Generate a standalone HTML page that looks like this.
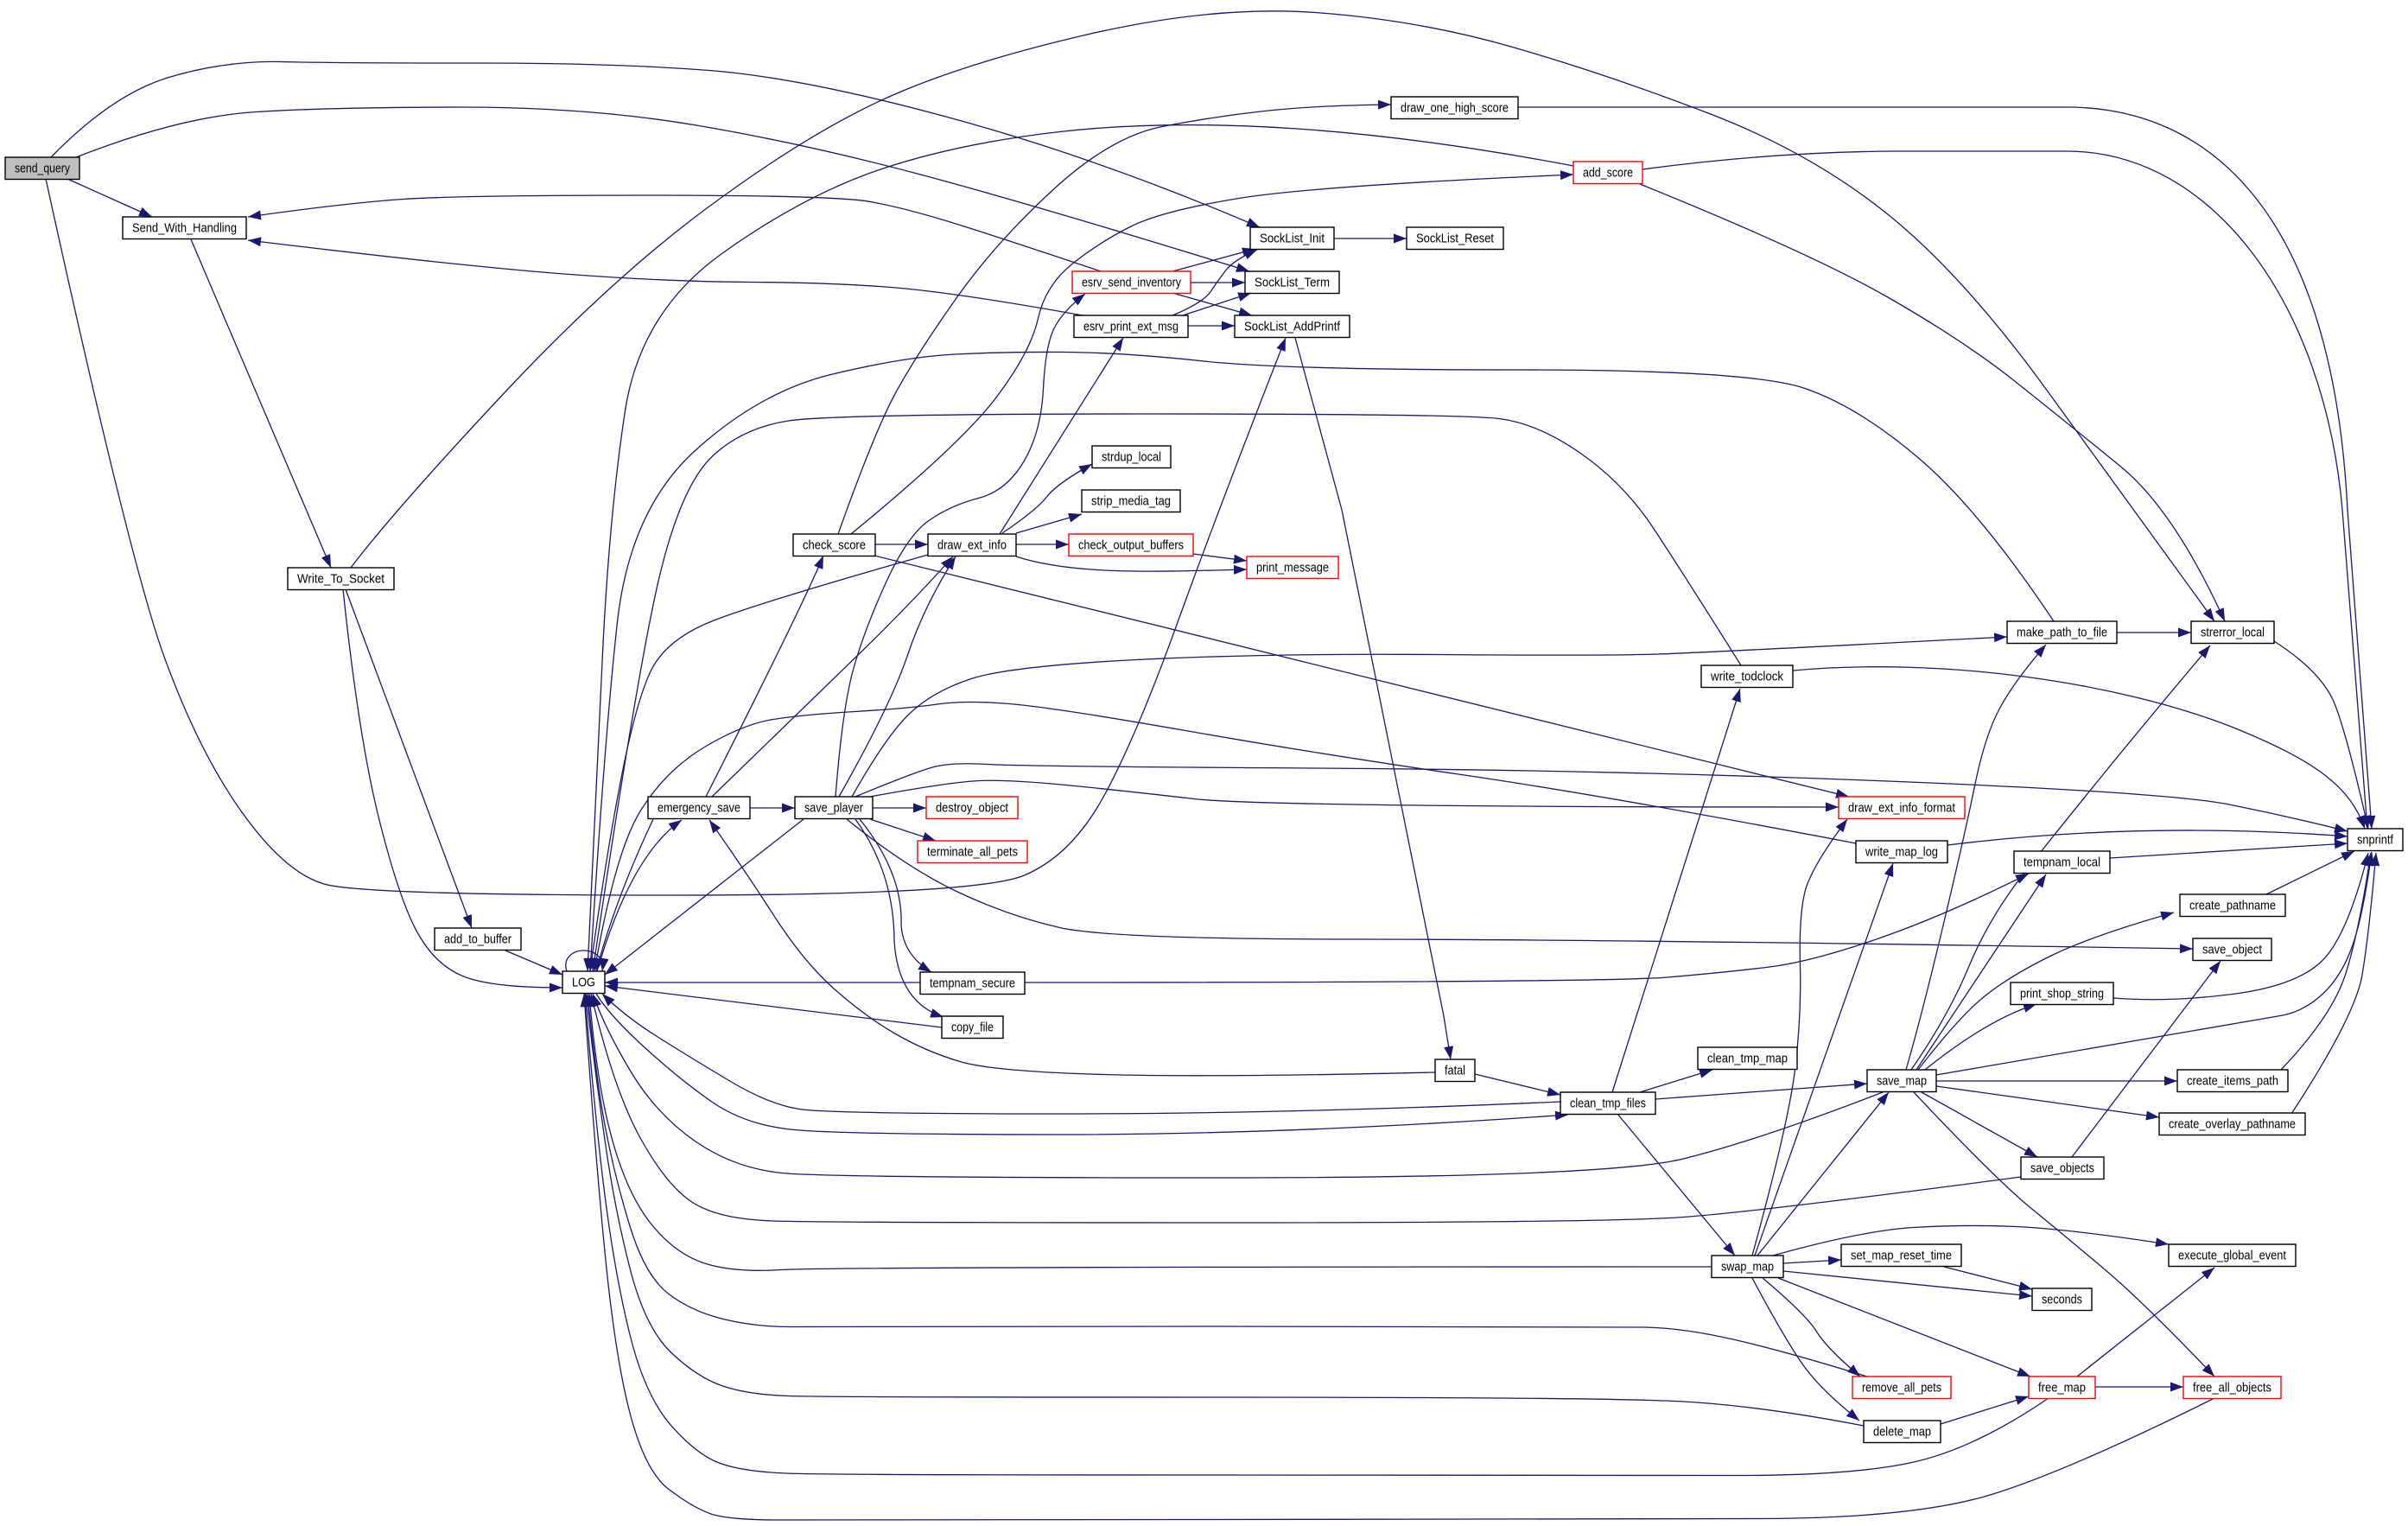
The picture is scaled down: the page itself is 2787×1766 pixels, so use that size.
<!DOCTYPE html>
<html>
<head>
<meta charset="utf-8">
<style>
html,body{margin:0;padding:0;background:#fff;}
svg{display:block;}
text{font-family:"Liberation Sans",Arial,sans-serif;font-size:15px;fill:#000;}
</style>
</head>
<body>
<svg width="2787" height="1766" viewBox="0 0 2787 1766" xmlns="http://www.w3.org/2000/svg">
<defs>
<marker id="a" markerUnits="userSpaceOnUse" markerWidth="15" markerHeight="11" refX="15" refY="5.5" viewBox="0 0 15 11" orient="auto">
<path d="M0,0 L15,5.5 L0,11 z" fill="#191970"/>
</marker>
</defs>
<rect width="2787" height="1766" fill="#fff"/>
<g fill="none" stroke="#191970" stroke-width="1.3" marker-end="url(#a)">
<path d="M78,207 L176,251"/>
<path d="M59,182 Q130,109 195.5,89.5 Q261,70 325.5,71.5 Q390,73 551,73 Q712,73 821,81.5 Q930,90 1102,137 Q1274,184 1458,263"/>
<path d="M88,182 Q208,135 296.5,129.5 Q385,124 533.5,124 Q682,124 806,145 Q930,166 1063.5,201.5 Q1197,237 1446,314"/>
<path d="M53,207 Q150,650 190,760 Q230,870 280,940 Q330,1010 375,1023 Q420,1036 775.5,1036 Q1131,1036 1185.5,1013 Q1240,990 1277.5,921.5 Q1315,853 1362.5,721.5 Q1410,590 1488,391"/>
<path d="M221,277 L383,657"/>
<path d="M406,657 Q457,590 581.5,457 Q706,324 818,241 Q930,158 1019,116.5 Q1108,75 1256,40.5 Q1404,6 1522.5,14.5 Q1641,23 1750.5,54.5 Q1860,86 1978.5,131.5 Q2097,177 2185.5,248.5 Q2274,320 2371.5,455 Q2469,590 2563,719"/>
<path d="M400,682 L546,1074"/>
<path d="M397,682 Q415,853 438.5,947 Q462,1041 483,1079 Q504,1117 536.5,1130 Q569,1143 651,1143"/>
<path d="M585,1100 L651,1128"/>
<path d="M656,1124 C646,1094 702,1090 697,1124"/>
<path d="M1821,192 Q1642,158 1493.5,148.5 Q1345,139 1226.5,152.5 Q1108,166 1019,196 Q930,226 835.5,293.5 Q741,361 723.5,475.5 Q706,590 698,745 Q690,900 680,1124"/>
<path d="M2377,719 Q2291,590 2220.5,530 Q2150,470 2087.5,449 Q2025,428 1756,428 Q1487,428 1393.5,418 Q1300,408 1231.5,407.5 Q1163,407 1105,410 Q1047,413 963.5,433 Q880,453 804.5,521.5 Q729,590 714.5,720 Q700,850 683,1124"/>
<path d="M2015,770 Q1949,665 1914.5,612.5 Q1880,560 1830,525 Q1780,490 1735,484.5 Q1690,479 1327.5,479 Q965,479 912.5,487 Q860,495 825,527.5 Q790,560 765,660 Q740,760 686,1124"/>
<path d="M1074,642 Q880,697 825,718.5 Q770,740 752.5,778 Q735,816 717.5,908 Q700,1000 683,1124"/>
<path d="M817,922 Q930,699 953,643"/>
<path d="M824,922 Q930,819 991.5,759.5 Q1053,700 1103,644"/>
<path d="M868,935 L920,935"/>
<path d="M756,948 Q712,1041 690,1124"/>
<path d="M691,1124 Q730,990 789,949"/>
<path d="M1661,1241 Q1404,1247 1277,1243.5 Q1150,1240 1111,1228.5 Q1072,1217 1036.5,1196.5 Q1001,1176 965.5,1144.5 Q930,1113 895,1058.5 Q860,1004 821,949"/>
<path d="M930,948 L700,1128"/>
<path d="M2148,976 Q1860,921 1691.5,896.5 Q1523,872 1375,846 Q1227,820 1173.5,815 Q1120,810 1084.5,815 Q1049,820 989.5,823.5 Q930,827 895,832.5 Q860,838 815.5,864.5 Q771,891 741.5,938 Q712,985 688,1124"/>
<path d="M1065,1137 L700,1137"/>
<path d="M1090,1189 L700,1141"/>
<path d="M1806,1275 Q1494,1289 1227,1289 Q960,1289 925,1283.5 Q890,1278 845.5,1251.5 Q801,1225 762,1200.5 Q723,1176 697,1150"/>
<path d="M690,1150 Q706,1176 747.5,1213.5 Q789,1251 824.5,1275.5 Q860,1300 910,1306.5 Q960,1313 1227,1313 Q1494,1313 1815,1290"/>
<path d="M2179,1264 Q2037,1319 1948.5,1341 Q1860,1363 1410,1363 Q960,1363 905,1357.5 Q850,1352 805,1321 Q760,1290 730,1240 Q700,1190 686,1150"/>
<path d="M2339,1362 Q2037,1402 1948.5,1408.5 Q1860,1415 1410,1415 Q960,1415 895,1413 Q830,1411 800,1390.5 Q770,1370 740,1315 Q710,1260 684,1150"/>
<path d="M1981,1466 Q960,1466 904,1469.5 Q848,1473 814,1461.5 Q780,1450 752.5,1415 Q725,1380 707.5,1315 Q690,1250 682,1150"/>
<path d="M2161,1593 Q2067,1564 2008,1550.5 Q1949,1537 1904.5,1536 Q1860,1535 1410,1535 Q960,1535 918.5,1535.5 Q877,1536 839,1527 Q801,1518 774,1497.5 Q747,1477 729.5,1420.5 Q712,1364 701,1307 Q690,1250 680,1150"/>
<path d="M2157,1650 Q2037,1627 1948.5,1622 Q1860,1617 1410,1617 Q960,1617 913,1615.5 Q866,1614 836.5,1604 Q807,1594 777,1565.5 Q747,1537 729.5,1469.5 Q712,1402 701,1326 Q690,1250 678,1150"/>
<path d="M2371,1618 Q2286,1676 2215,1692 Q2144,1708 2002,1707.5 Q1860,1707 1410,1707 Q960,1707 910,1705 Q860,1703 833.5,1693.5 Q807,1684 777,1650 Q747,1616 729.5,1546.5 Q712,1477 700,1383 Q688,1289 677,1150"/>
<path d="M2563,1618 Q2392,1703 2303.5,1730 Q2215,1757 2037.5,1757.5 Q1860,1758 1410,1758.5 Q960,1759 901,1759 Q842,1759 821.5,1751.5 Q801,1744 774,1723.5 Q747,1703 729.5,1637 Q712,1571 700,1448.5 Q688,1326 676,1150"/>
<path d="M1274,314 Q1167,278 1108,259.5 Q1049,241 1007.5,233.5 Q966,226 750,226 Q534,226 467,230.5 Q400,235 287,251"/>
<path d="M1253,365 Q1108,339 1037,333 Q966,327 868.5,326.5 Q771,326 652.5,317 Q534,308 287,278"/>
<path d="M1357,314 L1453,288"/>
<path d="M1378,327 L1441,327"/>
<path d="M1357,339 L1449,365"/>
<path d="M1357,365 Q1393,350 1401.5,337 Q1410,324 1419,312.5 Q1428,301 1455,289"/>
<path d="M1369,365 L1448,339"/>
<path d="M1375,377 L1429,377"/>
<path d="M1544,276 L1628,276"/>
<path d="M1499,391 L1553,590 L1671,1176 L1679,1226"/>
<path d="M1757,124 L2392,124 C2560,124 2700,250 2717,590 L2745,959"/>
<path d="M1901,196 Q2050,176 2191,175 L2392,175 C2560,175 2690,350 2711,590 L2740,959"/>
<path d="M1898,213 Q2096,293 2185,344 Q2274,395 2333,442 Q2392,489 2454,539.5 Q2516,590 2575,719"/>
<path d="M970,618 Q1013,497 1038,452 Q1063,407 1108,343.5 Q1153,280 1219.5,219 Q1286,158 1345,146.5 Q1404,135 1463.5,128.5 Q1523,122 1610,121"/>
<path d="M985,618 Q1113,513 1153,460 Q1193,407 1201.5,368.5 Q1210,330 1241.5,305 Q1273,280 1309,262 Q1345,244 1434,229.5 Q1523,215 1821,202"/>
<path d="M1013,630 L1074,630"/>
<path d="M1012,643 L2140,922"/>
<path d="M1157,618 L1300,391"/>
<path d="M1160,617 Q1200,590 1211.5,575 Q1223,560 1264,537"/>
<path d="M1176,617 L1252,595"/>
<path d="M1176,630 L1237,630"/>
<path d="M1176,644 C1240,665 1330,662 1443,659"/>
<path d="M1381,641 L1443,649"/>
<path d="M967,922 Q975,820 987.5,775 Q1000,730 1025,675 Q1050,620 1075,602.5 Q1100,585 1132.5,576.5 Q1165,568 1185,534 Q1205,500 1207.5,450 Q1210,400 1220,380 Q1230,360 1256,340"/>
<path d="M971,922 Q1031,816 1050.5,758 Q1070,700 1106,644"/>
<path d="M986,922 Q1025,853 1051.5,827 Q1078,801 1122.5,786 Q1167,771 1315.5,763.5 Q1464,756 1662,757.5 Q1860,759 1919,757 Q1978,755 2323,737"/>
<path d="M990,922 Q1060,893 1081,887.5 Q1102,882 1143.5,884.5 Q1185,887 1522.5,889 Q1860,891 2185,904 Q2510,917 2580,931 Q2650,945 2717,962"/>
<path d="M1007,922 Q1100,905 1133.5,903.5 Q1167,902 1233.5,908.5 Q1300,915 1382,924.5 Q1464,934 2128,934"/>
<path d="M1010,935 L1072,935"/>
<path d="M1007,948 L1083,973"/>
<path d="M995,948 Q1045,1010 1043,1070 Q1045,1105 1078,1125"/>
<path d="M990,948 Q1035,1010 1035,1090 Q1040,1160 1092,1177"/>
<path d="M980,948 Q1049,1004 1108,1032 Q1167,1060 1226.5,1073.5 Q1286,1087 1573,1087 Q1860,1087 2538,1098"/>
<path d="M1186,1137 Q1860,1137 1930,1131 Q2000,1125 2048,1119 Q2096,1113 2173,1086.5 Q2250,1060 2348,1011"/>
<path d="M1707,1243 L1806,1267"/>
<path d="M1898,1264 L1982,1238"/>
<path d="M1916,1272 L2161,1254"/>
<path d="M1872,1289 L2008,1453"/>
<path d="M1866,1264 L2014,797"/>
<path d="M2028,1453 Q2070,1300 2077.5,1238 Q2085,1176 2083.5,1118 Q2082,1060 2089,1032 Q2096,1004 2138,948"/>
<path d="M2031,1453 L2191,999"/>
<path d="M2034,1453 L2186,1264"/>
<path d="M2064,1462 L2131,1458"/>
<path d="M2052,1453 Q2156,1424 2215,1420.5 Q2274,1417 2333,1419.5 Q2392,1422 2510,1440"/>
<path d="M2064,1471 L2352,1500"/>
<path d="M2250,1466 L2352,1492"/>
<path d="M2058,1479 L2350,1593"/>
<path d="M2040,1479 Q2091,1522 2102.5,1541 Q2114,1560 2153,1593"/>
<path d="M2028,1479 Q2067,1552 2087.5,1580.5 Q2108,1609 2152,1644"/>
<path d="M2246,1648 L2348,1616"/>
<path d="M2425,1605 L2527,1605"/>
<path d="M2404,1593 L2563,1467"/>
<path d="M2241,1251 L2520,1251"/>
<path d="M2241,1257 L2499,1293"/>
<path d="M2224,1264 L2358,1339"/>
<path d="M2215,1264 Q2309,1364 2350.5,1398 Q2392,1432 2436.5,1469.5 Q2481,1507 2563,1593"/>
<path d="M2206,1238 Q2224,1176 2249,1071 Q2274,966 2285.5,909.5 Q2297,853 2313.5,821.5 Q2330,790 2368,746"/>
<path d="M2212,1238 Q2255,1176 2279,1118 Q2303,1060 2347.5,1004 Q2392,948 2436,894 Q2480,840 2558,747"/>
<path d="M2218,1238 L2368,1012"/>
<path d="M2220,1238 Q2268,1176 2297.5,1152.5 Q2327,1129 2374,1106 Q2421,1083 2516,1056"/>
<path d="M2228,1238 Q2300,1180 2357,1162"/>
<path d="M2241,1244 Q2617,1180 2642,1175 Q2667,1170 2688.5,1150 Q2710,1130 2722.5,1095 Q2735,1060 2745,986"/>
<path d="M2398,1339 L2570,1112"/>
<path d="M2640,1238 Q2699,1176 2714.5,1128 Q2730,1080 2744,987"/>
<path d="M2652,1289 Q2726,1176 2734,1128 Q2742,1080 2750,987"/>
<path d="M2446,1155 Q2510,1160 2584,1150.5 Q2658,1141 2687.5,1112 Q2717,1083 2741,987"/>
<path d="M2623,1035 L2725,985"/>
<path d="M2442,993 L2717,976"/>
<path d="M2254,978 Q2480,950 2717,968"/>
<path d="M2632,742 Q2688,778 2702.5,815.5 Q2717,853 2741,959"/>
<path d="M2075,776 C2250,760 2450,790 2580,840 C2680,880 2720,910 2737,959"/>
<path d="M2450,732 L2536,732"/>
</g>

<g stroke-width="1.4">
<rect x="6" y="182" width="86" height="25.5" fill="#bfbfbf" stroke="#000"/>
<rect x="142" y="251" width="143" height="25.5" fill="#fff" stroke="#000"/>
<rect x="333" y="657" width="123" height="25.5" fill="#fff" stroke="#000"/>
<rect x="503" y="1074" width="100" height="25.5" fill="#fff" stroke="#000"/>
<rect x="651" y="1124" width="49" height="25.5" fill="#fff" stroke="#000"/>
<rect x="750" y="922" width="118" height="25.5" fill="#fff" stroke="#000"/>
<rect x="918" y="618" width="95" height="25.5" fill="#fff" stroke="#000"/>
<rect x="920" y="922" width="90" height="25.5" fill="#fff" stroke="#000"/>
<rect x="1074" y="618" width="102" height="25.5" fill="#fff" stroke="#000"/>
<rect x="1241" y="314" width="137" height="25.5" fill="#fff" stroke="#f00"/>
<rect x="1243" y="365" width="132" height="25.5" fill="#fff" stroke="#000"/>
<rect x="1264" y="516" width="91" height="25.5" fill="#fff" stroke="#000"/>
<rect x="1252" y="567" width="114" height="25.5" fill="#fff" stroke="#000"/>
<rect x="1237" y="618" width="144" height="25.5" fill="#fff" stroke="#f00"/>
<rect x="1443" y="644" width="106" height="25.5" fill="#fff" stroke="#f00"/>
<rect x="1072" y="922" width="106" height="25.5" fill="#fff" stroke="#f00"/>
<rect x="1062" y="973" width="127" height="25.5" fill="#fff" stroke="#f00"/>
<rect x="1065" y="1125" width="121" height="25.5" fill="#fff" stroke="#000"/>
<rect x="1090" y="1176" width="71" height="25.5" fill="#fff" stroke="#000"/>
<rect x="1447" y="263" width="97" height="25.5" fill="#fff" stroke="#000"/>
<rect x="1628" y="263" width="112" height="25.5" fill="#fff" stroke="#000"/>
<rect x="1441" y="314" width="109" height="25.5" fill="#fff" stroke="#000"/>
<rect x="1429" y="365" width="133" height="25.5" fill="#fff" stroke="#000"/>
<rect x="1610" y="112" width="147" height="25.5" fill="#fff" stroke="#000"/>
<rect x="1821" y="187" width="80" height="25.5" fill="#fff" stroke="#f00"/>
<rect x="1661" y="1226" width="46" height="25.5" fill="#fff" stroke="#000"/>
<rect x="1806" y="1264" width="110" height="25.5" fill="#fff" stroke="#000"/>
<rect x="1965" y="1212" width="115" height="25.5" fill="#fff" stroke="#000"/>
<rect x="1981" y="1453" width="83" height="25.5" fill="#fff" stroke="#000"/>
<rect x="1969" y="770" width="106" height="25.5" fill="#fff" stroke="#000"/>
<rect x="2323" y="719" width="127" height="25.5" fill="#fff" stroke="#000"/>
<rect x="2536" y="719" width="96" height="25.5" fill="#fff" stroke="#000"/>
<rect x="2128" y="922" width="146" height="25.5" fill="#fff" stroke="#f00"/>
<rect x="2148" y="973" width="106" height="25.5" fill="#fff" stroke="#000"/>
<rect x="2331" y="985" width="111" height="25.5" fill="#fff" stroke="#000"/>
<rect x="2161" y="1238" width="80" height="25.5" fill="#fff" stroke="#000"/>
<rect x="2523" y="1035" width="122" height="25.5" fill="#fff" stroke="#000"/>
<rect x="2538" y="1086" width="91" height="25.5" fill="#fff" stroke="#000"/>
<rect x="2327" y="1137" width="119" height="25.5" fill="#fff" stroke="#000"/>
<rect x="2520" y="1238" width="128" height="25.5" fill="#fff" stroke="#000"/>
<rect x="2499" y="1288" width="169" height="25.5" fill="#fff" stroke="#000"/>
<rect x="2339" y="1339" width="96" height="25.5" fill="#fff" stroke="#000"/>
<rect x="2131" y="1440" width="139" height="25.5" fill="#fff" stroke="#000"/>
<rect x="2510" y="1440" width="147" height="25.5" fill="#fff" stroke="#000"/>
<rect x="2352" y="1491" width="69" height="25.5" fill="#fff" stroke="#000"/>
<rect x="2144" y="1593" width="114" height="25.5" fill="#fff" stroke="#f00"/>
<rect x="2348" y="1593" width="77" height="25.5" fill="#fff" stroke="#f00"/>
<rect x="2527" y="1593" width="113" height="25.5" fill="#fff" stroke="#f00"/>
<rect x="2157" y="1644" width="89" height="25.5" fill="#fff" stroke="#000"/>
<rect x="2717" y="959" width="64" height="25.5" fill="#fff" stroke="#000"/>
</g>

<g text-anchor="middle">
<text x="49" y="199.5" textLength="64" lengthAdjust="spacingAndGlyphs">send_query</text>
<text x="213.5" y="268.5" textLength="121" lengthAdjust="spacingAndGlyphs">Send_With_Handling</text>
<text x="394.5" y="674.5" textLength="101" lengthAdjust="spacingAndGlyphs">Write_To_Socket</text>
<text x="553" y="1091.5" textLength="78" lengthAdjust="spacingAndGlyphs">add_to_buffer</text>
<text x="675.5" y="1141.5" textLength="27" lengthAdjust="spacingAndGlyphs">LOG</text>
<text x="809" y="939.5" textLength="96" lengthAdjust="spacingAndGlyphs">emergency_save</text>
<text x="965.5" y="635.5" textLength="73" lengthAdjust="spacingAndGlyphs">check_score</text>
<text x="965" y="939.5" textLength="68" lengthAdjust="spacingAndGlyphs">save_player</text>
<text x="1125" y="635.5" textLength="80" lengthAdjust="spacingAndGlyphs">draw_ext_info</text>
<text x="1309.5" y="331.5" textLength="115" lengthAdjust="spacingAndGlyphs">esrv_send_inventory</text>
<text x="1309" y="382.5" textLength="110" lengthAdjust="spacingAndGlyphs">esrv_print_ext_msg</text>
<text x="1309.5" y="533.5" textLength="69" lengthAdjust="spacingAndGlyphs">strdup_local</text>
<text x="1309" y="584.5" textLength="92" lengthAdjust="spacingAndGlyphs">strip_media_tag</text>
<text x="1309" y="635.5" textLength="122" lengthAdjust="spacingAndGlyphs">check_output_buffers</text>
<text x="1496" y="661.5" textLength="84" lengthAdjust="spacingAndGlyphs">print_message</text>
<text x="1125" y="939.5" textLength="84" lengthAdjust="spacingAndGlyphs">destroy_object</text>
<text x="1125.5" y="990.5" textLength="105" lengthAdjust="spacingAndGlyphs">terminate_all_pets</text>
<text x="1125.5" y="1142.5" textLength="99" lengthAdjust="spacingAndGlyphs">tempnam_secure</text>
<text x="1125.5" y="1193.5" textLength="49" lengthAdjust="spacingAndGlyphs">copy_file</text>
<text x="1495.5" y="280.5" textLength="75" lengthAdjust="spacingAndGlyphs">SockList_Init</text>
<text x="1684" y="280.5" textLength="90" lengthAdjust="spacingAndGlyphs">SockList_Reset</text>
<text x="1495.5" y="331.5" textLength="87" lengthAdjust="spacingAndGlyphs">SockList_Term</text>
<text x="1495.5" y="382.5" textLength="111" lengthAdjust="spacingAndGlyphs">SockList_AddPrintf</text>
<text x="1683.5" y="129.5" textLength="125" lengthAdjust="spacingAndGlyphs">draw_one_high_score</text>
<text x="1861" y="204.5" textLength="58" lengthAdjust="spacingAndGlyphs">add_score</text>
<text x="1684" y="1243.5" textLength="24" lengthAdjust="spacingAndGlyphs">fatal</text>
<text x="1861" y="1281.5" textLength="88" lengthAdjust="spacingAndGlyphs">clean_tmp_files</text>
<text x="2022.5" y="1229.5" textLength="93" lengthAdjust="spacingAndGlyphs">clean_tmp_map</text>
<text x="2022.5" y="1470.5" textLength="61" lengthAdjust="spacingAndGlyphs">swap_map</text>
<text x="2022" y="787.5" textLength="84" lengthAdjust="spacingAndGlyphs">write_todclock</text>
<text x="2386.5" y="736.5" textLength="105" lengthAdjust="spacingAndGlyphs">make_path_to_file</text>
<text x="2584" y="736.5" textLength="74" lengthAdjust="spacingAndGlyphs">strerror_local</text>
<text x="2201" y="939.5" textLength="124" lengthAdjust="spacingAndGlyphs">draw_ext_info_format</text>
<text x="2201" y="990.5" textLength="84" lengthAdjust="spacingAndGlyphs">write_map_log</text>
<text x="2386.5" y="1002.5" textLength="89" lengthAdjust="spacingAndGlyphs">tempnam_local</text>
<text x="2201" y="1255.5" textLength="58" lengthAdjust="spacingAndGlyphs">save_map</text>
<text x="2584" y="1052.5" textLength="100" lengthAdjust="spacingAndGlyphs">create_pathname</text>
<text x="2583.5" y="1103.5" textLength="69" lengthAdjust="spacingAndGlyphs">save_object</text>
<text x="2386.5" y="1154.5" textLength="97" lengthAdjust="spacingAndGlyphs">print_shop_string</text>
<text x="2584" y="1255.5" textLength="106" lengthAdjust="spacingAndGlyphs">create_items_path</text>
<text x="2583.5" y="1305.5" textLength="147" lengthAdjust="spacingAndGlyphs">create_overlay_pathname</text>
<text x="2387" y="1356.5" textLength="74" lengthAdjust="spacingAndGlyphs">save_objects</text>
<text x="2200.5" y="1457.5" textLength="117" lengthAdjust="spacingAndGlyphs">set_map_reset_time</text>
<text x="2583.5" y="1457.5" textLength="125" lengthAdjust="spacingAndGlyphs">execute_global_event</text>
<text x="2386.5" y="1508.5" textLength="47" lengthAdjust="spacingAndGlyphs">seconds</text>
<text x="2201" y="1610.5" textLength="92" lengthAdjust="spacingAndGlyphs">remove_all_pets</text>
<text x="2386.5" y="1610.5" textLength="55" lengthAdjust="spacingAndGlyphs">free_map</text>
<text x="2583.5" y="1610.5" textLength="91" lengthAdjust="spacingAndGlyphs">free_all_objects</text>
<text x="2201.5" y="1661.5" textLength="67" lengthAdjust="spacingAndGlyphs">delete_map</text>
<text x="2749" y="976.5" textLength="42" lengthAdjust="spacingAndGlyphs">snprintf</text>
</g>
</svg>
</body>
</html>
